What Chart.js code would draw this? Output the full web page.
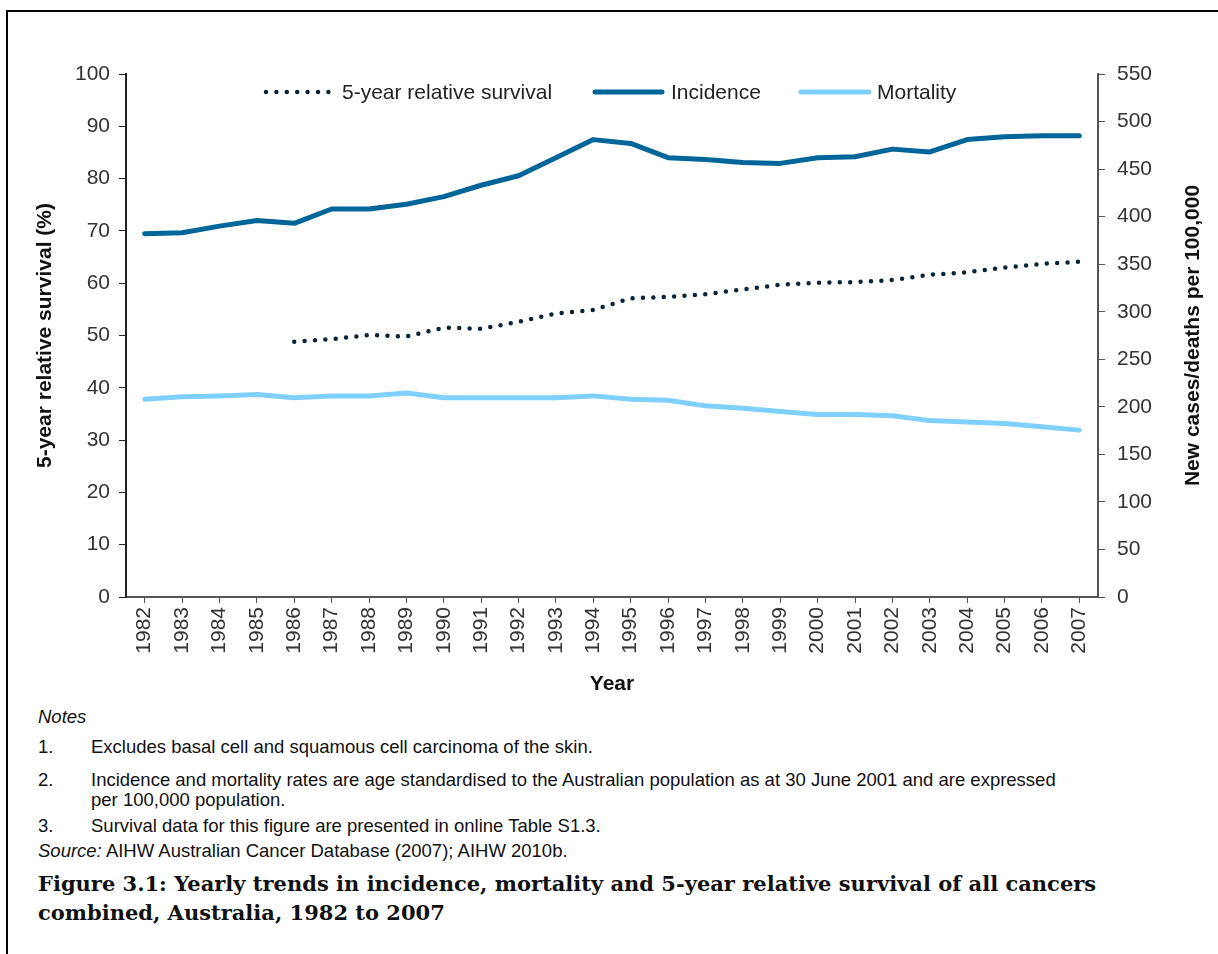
<!DOCTYPE html>
<html>
<head>
<meta charset="utf-8">
<script src="https://cdn.jsdelivr.net/npm/chart.js@4"></script>
<style>
  html, body { margin: 0; padding: 0; background: #fff; }
  body { width: 1218px; height: 954px; position: relative; overflow: hidden; font-family: "Liberation Sans", Arial, sans-serif; }
  #frame { position: absolute; left: 6px; top: 10px; width: 1300px; height: 1000px; border-left: 2px solid #000; border-top: 2px solid #000; }
  #wrap { position: absolute; left: 0; top: 0; width: 1218px; height: 700px; }
  .note { position: absolute; left: 38px; font-size: 18.5px; line-height: 21px; color: #111; white-space: nowrap; }
  .num { position: absolute; left: 38px; }
  .txt { position: absolute; left: 91px; }
  .cap { position: absolute; left: 38px; font-family: "DejaVu Serif", "Liberation Serif", serif; font-weight: bold; font-size: 21px; line-height: 26px; color: #111; white-space: nowrap; }
</style>
</head>
<body>
<div id="frame"></div>
<div id="wrap"><canvas id="c" width="1218" height="700"></canvas></div>

<div class="note" style="top:706px;"><i>Notes</i></div>
<div class="note" style="top:736px;left:0;"><span class="num">1.</span><span class="txt">Excludes basal cell and squamous cell carcinoma of the skin.</span></div>
<div class="note" style="top:769px;left:0;"><span class="num">2.</span><span class="txt">Incidence and mortality rates are age standardised to the Australian population as at 30 June 2001 and are expressed</span></div>
<div class="note" style="top:789px;left:0;"><span class="txt">per 100,000 population.</span></div>
<div class="note" style="top:815px;left:0;"><span class="num">3.</span><span class="txt">Survival data for this figure are presented in online Table S1.3.</span></div>
<div class="note" style="top:840px;"><i>Source:</i> AIHW Australian Cancer Database (2007); AIHW 2010b.</div>
<div class="cap" style="top:871px;">Figure 3.1: Yearly trends in incidence, mortality and 5-year relative survival of all cancers</div>
<div class="cap" style="top:900px;">combined, Australia, 1982 to 2007</div>

<script>
const years = ['1982','1983','1984','1985','1986','1987','1988','1989','1990','1991','1992','1993','1994','1995','1996','1997','1998','1999','2000','2001','2002','2003','2004','2005','2006','2007'];
const survival = [null,null,null,null,48.8,49.3,50.1,49.8,51.5,51.3,52.6,54.2,54.9,57.1,57.4,57.9,58.8,59.7,60.1,60.2,60.6,61.6,62.1,63.0,63.7,64.1];
const incidence = [382,383,390,396,393,408,408,413,421,433,443,462,481,477,462,460,457,456,462,463,471,468,481,484,485,485];
const mortality = [208,210.5,211.5,213,209.5,211.5,211.5,214.5,209.5,209.5,209.5,209.5,211.5,208,207,201,198.5,195,192,192,190.5,185.5,184,182.5,179,175.5];
const leftTicks = [0,10,20,30,40,50,60,70,80,90,100];
const rightTicks = [0,50,100,150,200,250,300,350,400,450,500,550];
const rightTitle = 'New cases/deaths per 100,000';

const SURV_COLOR = '#0c2336';
const INC_COLOR = '#006699';
const MORT_COLOR = '#80d0ff';
const FONT = '"Liberation Sans", Arial, sans-serif';

const legendPlugin = {
  id: 'insideLegend',
  afterDraw(chart) {
    const ctx = chart.ctx;
    const items = [
      { ds: 0, x0: 266, x1: 330, tx: 342 },
      { ds: 1, x0: 595, x1: 662, tx: 671 },
      { ds: 2, x0: 801, x1: 869, tx: 877 }
    ];
    const y = 92;
    ctx.save();
    items.forEach(it => {
      const d = chart.data.datasets[it.ds];
      ctx.beginPath();
      ctx.strokeStyle = d.borderColor;
      ctx.lineWidth = d.borderWidth;
      ctx.lineCap = 'round';
      ctx.setLineDash(d.borderDash || []);
      ctx.moveTo(it.x0, y);
      ctx.lineTo(it.x1, y);
      ctx.stroke();
      ctx.setLineDash([]);
      ctx.fillStyle = '#222';
      ctx.font = '21px ' + FONT;
      ctx.textBaseline = 'middle';
      ctx.textAlign = 'left';
      ctx.fillText(d.label, it.tx, y + 1);
    });
    // right axis title, reading bottom-to-top
    const ca = chart.chartArea;
    ctx.translate(1193, (ca.top + ca.bottom) / 2);
    ctx.rotate(-Math.PI / 2);
    ctx.fillStyle = '#111';
    ctx.font = 'bold 21px ' + FONT;
    ctx.textAlign = 'center';
    ctx.textBaseline = 'middle';
    ctx.fillText(rightTitle, 0, 0);
    ctx.restore();
  }
};

new Chart(document.getElementById('c'), {
  type: 'line',
  data: {
    labels: years,
    datasets: [
      { label: '5-year relative survival', data: survival, yAxisID: 'yL', borderColor: SURV_COLOR, backgroundColor: SURV_COLOR,
        borderWidth: 4.5, borderDash: [0, 10.4], borderCapStyle: 'round', pointRadius: 0, tension: 0, spanGaps: false },
      { label: 'Incidence', data: incidence, yAxisID: 'yR', borderColor: INC_COLOR, backgroundColor: INC_COLOR,
        borderWidth: 5, borderCapStyle: 'round', borderJoinStyle: 'round', pointRadius: 0, tension: 0 },
      { label: 'Mortality', data: mortality, yAxisID: 'yR', borderColor: MORT_COLOR, backgroundColor: MORT_COLOR,
        borderWidth: 5, borderCapStyle: 'round', borderJoinStyle: 'round', pointRadius: 0, tension: 0 }
    ]
  },
  options: {
    responsive: false,
    animation: false,
    devicePixelRatio: 1,
    layout: { padding: { left: 33, right: 15, top: 74, bottom: 3 } },
    plugins: { legend: { display: false }, tooltip: { enabled: false } },
    scales: {
      x: {
        type: 'category',
        offset: true,
        grid: { drawOnChartArea: false, offset: false, tickLength: 6, color: '#555', tickColor: '#555' },
        border: { display: true, color: '#555', width: 2 },
        ticks: { minRotation: 90, maxRotation: 90, autoSkip: false, font: { size: 21, family: FONT }, color: '#333', padding: 4 },
        title: { display: true, text: 'Year', font: { size: 21, weight: 'bold', family: FONT }, color: '#111', padding: 0 },
        afterFit(s) { s.height = 100; }
      },
      yL: {
        position: 'left',
        min: 0, max: 100,
        afterBuildTicks(s) { s.ticks = leftTicks.map(v => ({ value: v })); },
        grid: { drawOnChartArea: false, tickLength: 7, color: '#222', tickColor: '#222' },
        border: { display: true, color: '#222', width: 2 },
        ticks: { font: { size: 21, family: FONT }, color: '#333', padding: 9 },
        title: { display: true, text: '5-year relative survival (%)', font: { size: 21, weight: 'bold', family: FONT }, color: '#111', padding: 0 },
        afterFit(s) { s.width = 93; }
      },
      yR: {
        position: 'right',
        min: 0, max: 550,
        afterBuildTicks(s) { s.ticks = rightTicks.map(v => ({ value: v })); },
        grid: { drawOnChartArea: false, tickLength: 7, color: '#555', tickColor: '#555' },
        border: { display: true, color: '#555', width: 2 },
        ticks: { font: { size: 21, family: FONT }, color: '#333', padding: 12 },
        title: { display: false },
        afterFit(s) { s.width = 105; }
      }
    }
  },
  plugins: [legendPlugin]
});
</script>
</body>
</html>
